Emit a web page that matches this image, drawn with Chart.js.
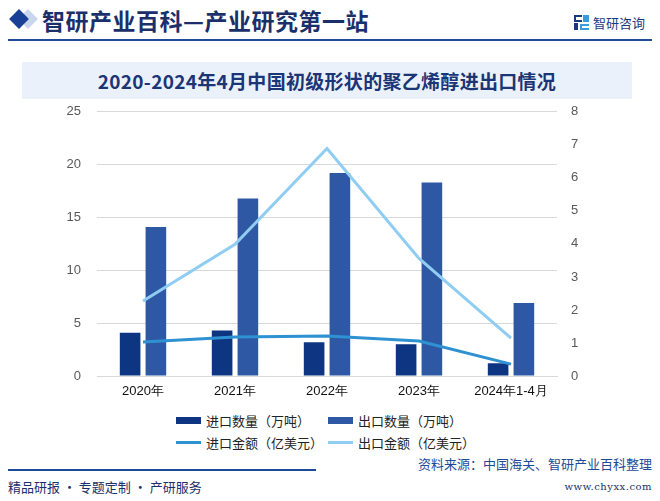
<!DOCTYPE html>
<html>
<head>
<meta charset="utf-8">
<script src="https://cdn.jsdelivr.net/npm/chart.js@4.4.1/dist/chart.umd.min.js"></script>
<style>
  html, body { margin: 0; padding: 0; background: #fff; }
  body { width: 660px; height: 501px; position: relative; overflow: hidden; font-family: 'Noto Sans CJK SC', sans-serif; }
  .head-title { position: absolute; left: 42px; top: 3px; font-size: 23px; font-weight: 700; color: #1b2f6b; letter-spacing: 0.5px; }
  .diamond { position: absolute; width: 14px; height: 14px; transform: rotate(45deg); }
  .head-line { position: absolute; left: 8px; top: 39px; width: 644px; height: 2px; background: #1f4a97; }
  .logo { position: absolute; left: 574px; top: 13px; display: flex; align-items: center; }
  .logo-icon { width: 15px; height: 15px; position: relative; margin-right: 4px; }
  .logo-text { font-size: 13px; color: #1b3a7e; }
  .title-band { position: absolute; left: 22px; top: 62px; width: 610px; height: 37px; background: #eaf1fb; text-align: center; line-height: 37px; font-size: 19px; font-weight: 700; color: #1b3576; letter-spacing: 0.3px; }
  #wrap { position: absolute; left: 0; top: 88px; width: 660px; height: 317px; }
  .legend { position: absolute; left: 176px; top: 411px; width: 320px; display: grid; grid-template-columns: 152px 152px; row-gap: 4px; }
  .legend-item { display: flex; align-items: center; font-size: 13px; color: #222; height: 18px; }
  .legend-mark { width: 25px; margin-right: 5px; }
  .foot-line { position: absolute; left: 8px; top: 469px; width: 308px; height: 2px; background: #1f4a97; }
  .foot-left { position: absolute; left: 8px; top: 477px; font-size: 13px; color: #1b2f6b; }
  .foot-src { position: absolute; right: 8px; top: 454px; font-size: 13px; color: #1f4a97; }
  .foot-url { position: absolute; right: 8px; top: 481px; font-size: 10px; color: #1b2f6b; font-family: 'DejaVu Serif', serif; letter-spacing: 0.5px; }
</style>
</head>
<body>
<div class="diamond" style="left:21px;top:12px;background:#c9d6ee;"></div>
<div class="diamond" style="left:12px;top:12px;background:#1a3f96;"></div>
<div class="head-title">智研产业百科—产业研究第一站</div>
<div class="logo">
  <div class="logo-icon">
    <div style="position:absolute;left:0;top:0;width:8px;height:7px;border:2px solid #1b3a7e;border-right:none;box-sizing:border-box;"></div>
    <div style="position:absolute;left:0;top:8px;width:4px;height:7px;background:#1b3a7e;"></div>
    <div style="position:absolute;left:9px;top:0;width:6px;height:7px;background:#3a9be0;"></div>
    <div style="position:absolute;left:6px;top:9px;width:9px;height:6px;border:2px solid #3a9be0;border-right:none;box-sizing:border-box;"></div>
  </div>
  <div class="logo-text">智研咨询</div>
</div>
<div class="head-line"></div>
<div class="title-band">2020-2024年4月中国初级形状的聚乙烯醇进出口情况</div>
<div id="wrap"><canvas id="chart"></canvas></div>
<div class="legend" id="legend"></div>
<div class="foot-src">资料来源：中国海关、智研产业百科整理</div>
<div class="foot-line"></div>
<div class="foot-left">精品研报 · 专题定制 · 产研服务</div>
<div class="foot-url">www.chyxx.com</div>
<script>
const categories = ['2020年', '2021年', '2022年', '2023年', '2024年1-4月']
const importVolume = [4.1, 4.3, 3.2, 3.0, 1.2]
const exportVolume = [14.1, 16.8, 19.2, 18.3, 6.9]
const importAmount = [1.03, 1.18, 1.21, 1.06, 0.36]
const exportAmount = [2.27, 3.99, 6.89, 3.56, 1.15]

const colors = {
  importBar: '#0e3582',
  exportBar: '#2f58a4',
  importLine: '#2e92d2',
  exportLine: '#8fcdf2',
}

const tickFont = { family: "'Liberation Sans', Arial, sans-serif", size: 13 }

const datasets = [
  { type: 'bar', label: '进口数量（万吨）', data: importVolume, backgroundColor: colors.importBar, yAxisID: 'y', order: 2, categoryPercentage: 0.56, barPercentage: 0.8 },
  { type: 'bar', label: '出口数量（万吨）', data: exportVolume, backgroundColor: colors.exportBar, yAxisID: 'y', order: 2, categoryPercentage: 0.56, barPercentage: 0.8 },
  { type: 'line', label: '进口金额（亿美元）', data: importAmount, borderColor: colors.importLine, backgroundColor: colors.importLine, yAxisID: 'y1', order: 0, borderWidth: 3, pointRadius: 0, tension: 0, fill: false },
  { type: 'line', label: '出口金额（亿美元）', data: exportAmount, borderColor: colors.exportLine, backgroundColor: colors.exportLine, yAxisID: 'y1', order: 0, borderWidth: 3, pointRadius: 0, tension: 0, fill: false },
]

const chart = new Chart(document.getElementById('chart'), {
  data: { labels: categories, datasets },
  options: {
    responsive: true,
    maintainAspectRatio: false,
    animation: false,
    layout: { padding: { top: 4, bottom: 0 } },
    plugins: { legend: { display: false }, tooltip: { enabled: false } },
    scales: {
      x: {
        offset: true,
        grid: { display: false, drawTicks: false },
        border: { color: '#d9d9d9', width: 1 },
        ticks: { color: '#111', font: tickFont, padding: 8, maxRotation: 0 },
        afterFit(scale) { scale.height = 29 },
      },
      y: {
        position: 'left',
        min: 0,
        max: 25,
        ticks: { stepSize: 5, color: '#595959', font: tickFont, padding: 16 },
        grid: { color: '#d9d9d9', drawTicks: false },
        border: { display: false },
        afterFit(scale) { scale.width = 97 },
      },
      y1: {
        position: 'right',
        min: 0,
        max: 8,
        ticks: { stepSize: 1, color: '#595959', font: tickFont, padding: 14 },
        grid: { drawOnChartArea: false, drawTicks: false },
        border: { display: false },
        afterFit(scale) { scale.width = 103 },
      },
    },
  },
})

// legend built from the same datasets, two items per row
const legendEl = document.getElementById('legend')
datasets.forEach((ds) => {
  const item = document.createElement('div')
  item.className = 'legend-item'
  const mark = document.createElement('span')
  mark.className = 'legend-mark'
  mark.style.height = ds.type === 'bar' ? '7px' : '3px'
  mark.style.background = ds.type === 'bar' ? ds.backgroundColor : ds.borderColor
  const text = document.createElement('span')
  text.textContent = ds.label
  item.appendChild(mark)
  item.appendChild(text)
  legendEl.appendChild(item)
})
</script>
</body>
</html>
